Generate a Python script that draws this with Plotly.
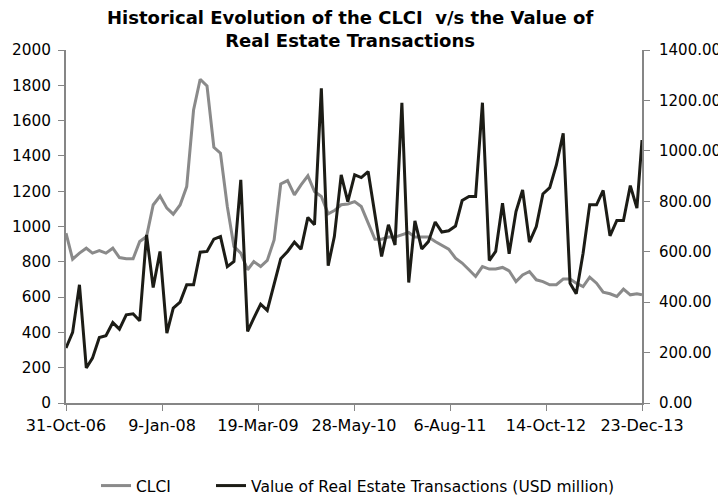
import pandas as pd
import plotly.graph_objects as go

# Monthly observation dates (month ends, last observation 23-Dec-13)
dates = list(pd.date_range("2006-10-31", "2013-11-30", freq="ME")) + [pd.Timestamp("2013-12-23")]

clci = [962, 815, 849, 877, 849, 864, 849, 877, 824, 817,
        817, 915, 943, 1122, 1173, 1104, 1070, 1122, 1226, 1660,
        1834, 1796, 1449, 1415, 1113, 887, 849, 755, 801, 773,
        808, 924, 1241, 1260, 1179, 1236, 1287, 1198, 1170, 1072,
        1090, 1123, 1128, 1141, 1113, 1019, 928, 928, 940, 940,
        951, 966, 940, 940, 940, 915, 896, 872, 821, 793,
        755, 717, 773, 759, 759, 768, 749, 688, 726, 745,
        698, 688, 670, 670, 702, 702, 679, 660, 713, 679,
        628, 619, 604, 645, 613, 619, 613]

transactions = [218, 280, 469, 139, 178, 260, 267, 319, 293, 350,
                354, 326, 667, 458, 601, 277, 376, 400, 469, 469,
                598, 601, 650, 660, 541, 561, 885, 284, 337, 392,
                367, 469, 572, 601, 638, 610, 736, 707, 1248, 545,
                660, 905, 799, 905, 894, 918, 753, 581, 707, 627,
                1191, 478, 722, 611, 640, 718, 678, 683, 702, 803,
                819, 819, 1191, 565, 601, 792, 592, 759, 845, 638,
                700, 829, 854, 944, 1070, 475, 433, 594, 786, 786,
                843, 663, 724, 724, 862, 773, 1043]

tick_dates = ["2006-10-31", "2008-01-09", "2009-03-19", "2010-05-28",
              "2011-08-06", "2012-10-14", "2013-12-23"]
tick_labels = ["31-Oct-06", "9-Jan-08", "19-Mar-09", "28-May-10",
               "6-Aug-11", "14-Oct-12", "23-Dec-13"]

title_text = "<b>Historical Evolution of the CLCI  v/s the Value of<br>Real Estate Transactions</b>"

fig = go.Figure()
fig.add_trace(go.Scatter(x=dates, y=clci, name="CLCI", mode="lines", legend="legend",
                         line=dict(color="#8a8a8a", width=3)))
fig.add_trace(go.Scatter(x=dates, y=transactions, name="Value of Real Estate Transactions (USD million)",
                         mode="lines", yaxis="y2", legend="legend2",
                         line=dict(color="#1c1c16", width=3)))

axis_col = "#868686"
font_fam = "DejaVu Sans, Verdana, sans-serif"
common = dict(showgrid=False, zeroline=False, showline=True, linecolor=axis_col, linewidth=2,
              ticks="outside", ticklen=6, tickcolor=axis_col, tickwidth=1, automargin=False)
leg_common = dict(orientation="h", xref="container", xanchor="left",
                  y=11 / 489, yref="container", yanchor="middle",
                  font=dict(family=font_fam, size=15.5), bgcolor="rgba(0,0,0,0)")
fig.update_layout(
    width=718, height=489,
    margin=dict(l=58, r=84, t=42, b=94, autoexpand=False),
    paper_bgcolor="white", plot_bgcolor="white",
    font=dict(family=font_fam, size=15.5, color="#000000"),
    xaxis=dict(type="date", range=["2006-10-31", "2013-12-23"],
               tickvals=tick_dates, ticktext=tick_labels, ticklabelstandoff=1,
               tickfont=dict(size=16), **common),
    yaxis=dict(range=[0, 2000], tickvals=list(range(0, 2001, 200)), ticklabelstandoff=4,
               tickfont=dict(size=15.3), **common),
    yaxis2=dict(range=[0, 1400], tickvals=list(range(0, 1401, 200)), tickformat=".2f",
                overlaying="y", side="right", ticklabelstandoff=6,
                tickfont=dict(size=15), **common),
    legend=dict(x=88 / 718, **leg_common),
    legend2=dict(x=203 / 718, **leg_common),
    showlegend=True,
    annotations=[dict(text=title_text, xref="paper", yref="paper",
                      x=0.493, y=1.0595, xanchor="center", yanchor="middle",
                      showarrow=False, align="center",
                      font=dict(family=font_fam, size=18, color="#000000"))],
)

fig.write_html("out.html")
